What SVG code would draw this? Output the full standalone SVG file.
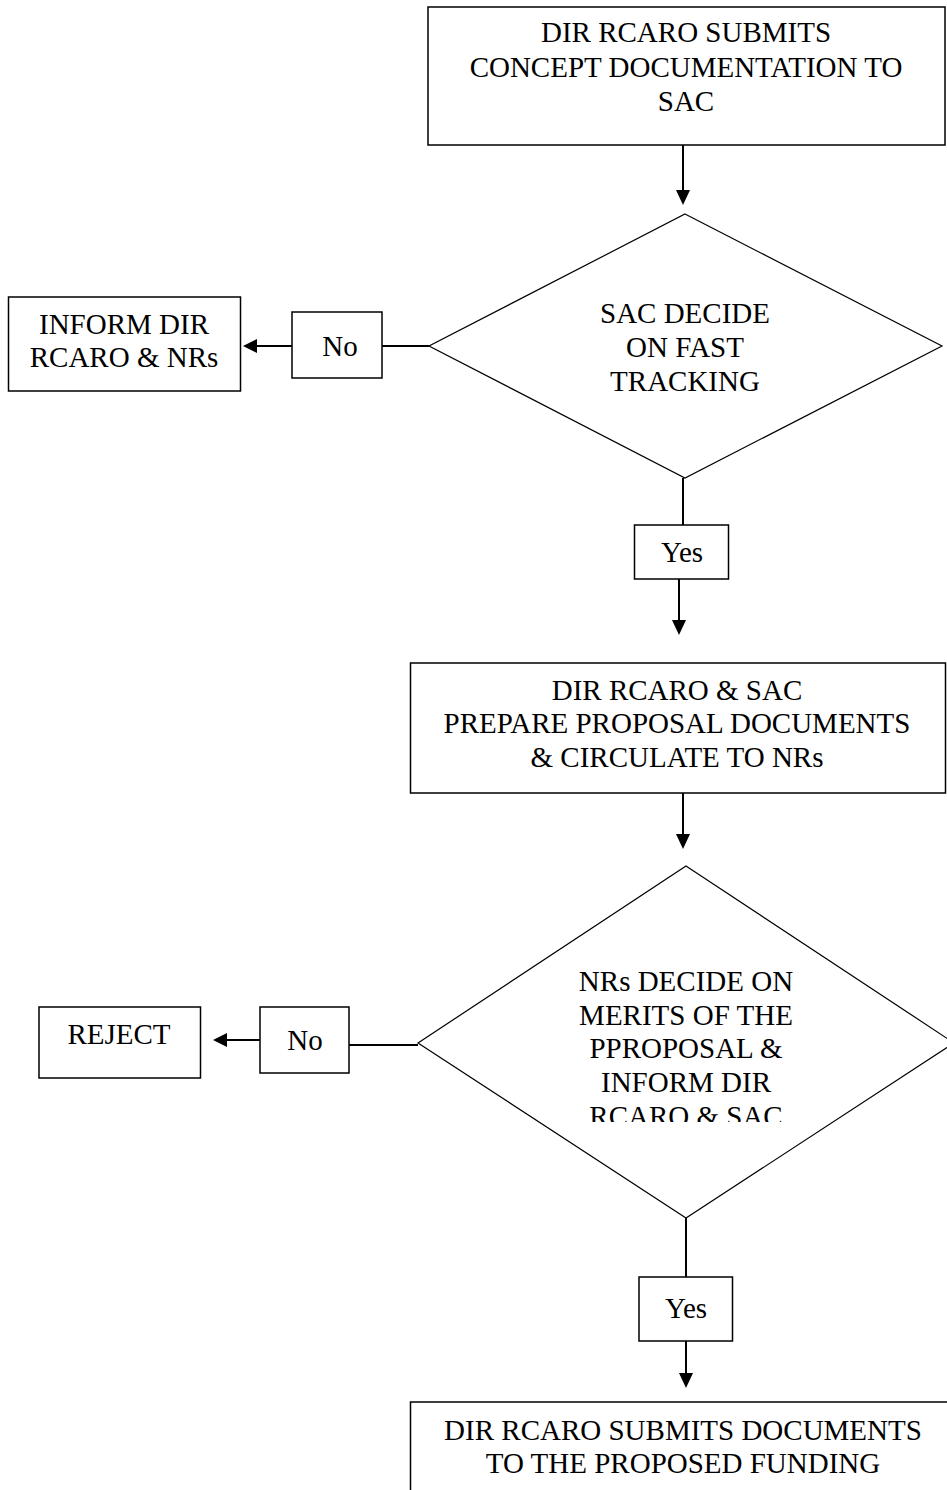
<svg xmlns="http://www.w3.org/2000/svg" width="947" height="1490" viewBox="0 0 947 1490">
<style>
.box{fill:#fff;stroke:#000;stroke-width:1.5}
.dia{fill:#fff;stroke:#000;stroke-width:1.2}
.t{font-family:"Liberation Serif","Times New Roman",serif;font-size:29px;fill:#000;text-anchor:middle}
.c{stroke:#000;stroke-width:2;fill:none}
.ah{fill:#000}
</style>
<defs>
<clipPath id="clipD2"><rect x="400" y="860" width="547" height="262"/></clipPath>
</defs>
<rect x="0" y="0" width="947" height="1490" fill="#fff"/>
<g id="connectors">
<line class="c" x1="683" y1="145" x2="683" y2="192"/>
<polygon class="ah" points="676,190 690,190 683,205"/>
<line class="c" x1="429" y1="346" x2="382" y2="346"/>
<line class="c" x1="292" y1="346" x2="255" y2="346"/>
<polygon class="ah" points="257,339 257,353 243,346"/>
<line class="c" x1="683" y1="478" x2="683" y2="525"/>
<line class="c" x1="679" y1="579" x2="679" y2="622"/>
<polygon class="ah" points="672,620 686,620 679,635"/>
<line class="c" x1="683" y1="793" x2="683" y2="836"/>
<polygon class="ah" points="676,834 690,834 683,849"/>
<line class="c" x1="418" y1="1045" x2="349" y2="1045"/>
<line class="c" x1="260" y1="1040" x2="225" y2="1040"/>
<polygon class="ah" points="227,1033 227,1047 213,1040"/>
<line class="c" x1="686" y1="1218" x2="686" y2="1277"/>
<line class="c" x1="686" y1="1341" x2="686" y2="1375"/>
<polygon class="ah" points="679,1373 693,1373 686,1388"/>
</g>
<g id="n1">
<rect class="box" x="428" y="7" width="517" height="138"/>
<text class="t" x="686" y="42">DIR RCARO SUBMITS</text>
<text class="t" x="686" y="77">CONCEPT DOCUMENTATION TO</text>
<text class="t" x="686" y="111">SAC</text>
</g>
<g id="d1">
<polygon class="dia" points="685,214 942,346 685,478 429,346"/>
<text class="t" x="685" y="323">SAC DECIDE</text>
<text class="t" x="685" y="357">ON FAST</text>
<text class="t" x="685" y="391">TRACKING</text>
</g>
<g id="no1">
<rect class="box" x="292" y="312" width="90" height="66"/>
<text class="t" x="340" y="356">No</text>
</g>
<g id="inform">
<rect class="box" x="8.5" y="297" width="232" height="94"/>
<text class="t" x="124" y="334">INFORM DIR</text>
<text class="t" x="124" y="367">RCARO &amp; NRs</text>
</g>
<g id="yes1">
<rect class="box" x="634.5" y="525" width="94" height="54"/>
<text class="t" x="682" y="562">Yes</text>
</g>
<g id="n2">
<rect class="box" x="410.5" y="663" width="535" height="130"/>
<text class="t" x="677" y="700">DIR RCARO &amp; SAC</text>
<text class="t" x="677" y="733">PREPARE PROPOSAL DOCUMENTS</text>
<text class="t" x="677" y="767">&amp; CIRCULATE TO NRs</text>
</g>
<g id="d2">
<polygon class="dia" points="686,866 954,1043 686,1218 418,1043"/>
<g clip-path="url(#clipD2)">
<text class="t" x="686" y="991">NRs DECIDE ON</text>
<text class="t" x="686" y="1025">MERITS OF THE</text>
<text class="t" x="686" y="1058">PPROPOSAL &amp;</text>
<text class="t" x="686" y="1092">INFORM DIR</text>
<text class="t" x="686" y="1126">RCARO &amp; SAC</text>
</g>
</g>
<g id="no2">
<rect class="box" x="260" y="1007" width="89" height="66"/>
<text class="t" x="305" y="1050">No</text>
</g>
<g id="reject">
<rect class="box" x="39" y="1007" width="161.5" height="71"/>
<text class="t" x="119" y="1044">REJECT</text>
</g>
<g id="yes2">
<rect class="box" x="639" y="1277" width="93.5" height="64"/>
<text class="t" x="686" y="1318">Yes</text>
</g>
<g id="n3">
<rect class="box" x="410.5" y="1402" width="540" height="100"/>
<text class="t" x="683" y="1440">DIR RCARO SUBMITS DOCUMENTS</text>
<text class="t" x="683" y="1473">TO THE PROPOSED FUNDING</text>
</g>
</svg>
